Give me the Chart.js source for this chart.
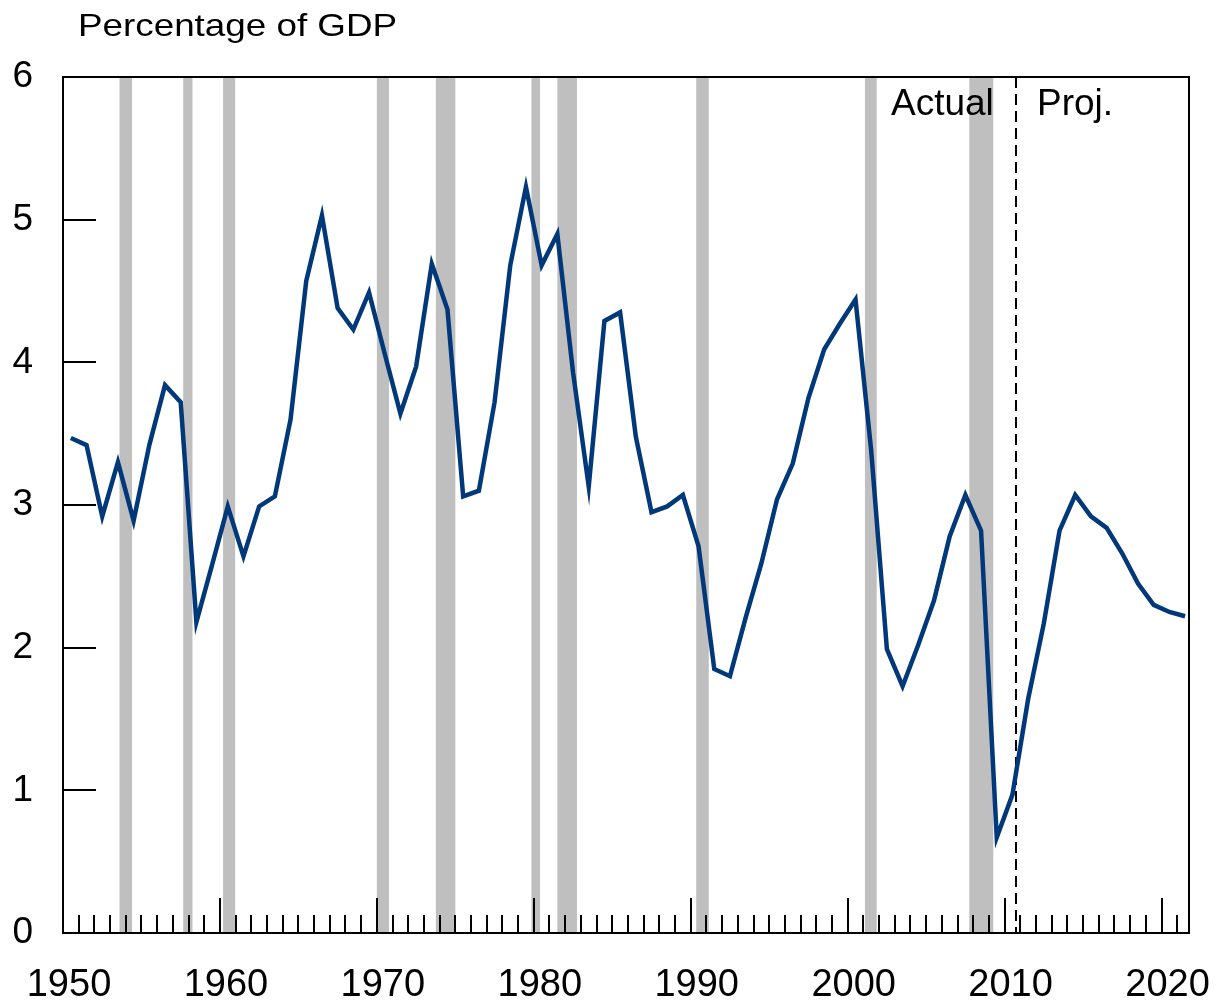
<!DOCTYPE html>
<html><head><meta charset="utf-8">
<script src="https://cdn.jsdelivr.net/npm/chart.js@4/dist/chart.umd.min.js"></script>
<style>html,body{margin:0;padding:0;background:#fff;}#wrap{width:1217px;height:1005px;position:relative;}</style>
</head><body><div id="wrap"><canvas id="c"></canvas></div>
<script>
const years = [1950,1951,1952,1953,1954,1955,1956,1957,1958,1959,
  1960,1961,1962,1963,1964,1965,1966,1967,1968,1969,
  1970,1971,1972,1973,1974,1975,1976,1977,1978,1979,
  1980,1981,1982,1983,1984,1985,1986,1987,1988,1989,
  1990,1991,1992,1993,1994,1995,1996,1997,1998,1999,
  2000,2001,2002,2003,2004,2005,2006,2007,2008,2009,
  2010,2011,2012,2013,2014,2015,2016,2017,2018,2019,2020,2021];
const values = [3.47,3.42,2.92,3.30,2.89,3.42,3.84,3.72,2.18,2.58,
  2.99,2.64,2.99,3.06,3.60,4.57,5.03,4.38,4.23,4.49,
  4.06,3.64,3.97,4.69,4.37,3.06,3.10,3.72,4.68,5.23,
  4.68,4.90,3.93,3.13,4.29,4.35,3.48,2.95,2.99,3.07,
  2.71,1.85,1.80,2.21,2.59,3.04,3.29,3.75,4.09,4.27,
  4.44,3.38,1.99,1.73,2.02,2.33,2.78,3.07,2.82,0.67,
  0.97,1.64,2.17,2.82,3.07,2.92,2.84,2.66,2.45,2.30,2.25,2.22];
const decadeTicks = [1950,1960,1970,1980,1990,2000,2010,2020];
const yTicks = [0,1,2,3,4,5,6];
const recessionStarts = [1953.6,1957.66,1960.2,1970.0,1973.76,1979.85,1981.5,1990.35,2001.1,2007.75];
const recessionEnds   = [1954.4,1958.25,1960.97,1970.77,1975.0,1980.4,1982.75,1991.15,2001.85,2009.28];
const projectionStart = 2010.75;
const xMin = 1950, xMax = 2021.75;
const unitLabel = 'Percentage of GDP';
const actualLabel = 'Actual';
const projLabel = 'Proj.';
const FONT = '"Liberation Sans", Arial, Helvetica, sans-serif';

const decor = {
  id: 'decor',
  beforeDatasetsDraw(chart) {
    const {ctx, chartArea: a, scales: {x, y}} = chart;
    ctx.save();
    ctx.fillStyle = '#BFBFBF';
    recessionStarts.forEach((s, i) => {
      const x0 = x.getPixelForValue(s), x1 = x.getPixelForValue(recessionEnds[i]);
      ctx.fillRect(x0, a.top, x1 - x0, a.bottom - a.top);
    });
    ctx.strokeStyle = '#000';
    ctx.lineWidth = 2;
    ctx.setLineDash([11, 6]);
    const px = Math.round(x.getPixelForValue(projectionStart));
    ctx.beginPath(); ctx.moveTo(px, a.top); ctx.lineTo(px, a.bottom); ctx.stroke();
    ctx.setLineDash([]);
    ctx.lineWidth = 2;
    ctx.beginPath();
    for (let yr = Math.ceil(xMin) + 1; yr <= Math.floor(xMax); yr++) {
      const len = (yr % 10 === 0) ? 35 : 18;
      const tx = Math.round(x.getPixelForValue(yr));
      ctx.moveTo(tx, a.bottom); ctx.lineTo(tx, a.bottom - len);
    }
    yTicks.forEach(v => {
      const ty = Math.round(y.getPixelForValue(v));
      ctx.moveTo(a.left, ty); ctx.lineTo(a.left + 33, ty);
    });
    ctx.stroke();
    ctx.restore();
  },
  afterDatasetsDraw(chart) {
    const {ctx, chartArea: a} = chart;
    ctx.save();
    ctx.strokeStyle = '#000';
    ctx.lineWidth = 2;
    ctx.strokeRect(a.left, a.top, a.right - a.left, a.bottom - a.top);
    ctx.fillStyle = '#000';
    ctx.textBaseline = 'alphabetic';
    ctx.font = '37px ' + FONT;
    ctx.textAlign = 'left';
    ctx.fillText(actualLabel, 891, 115);
    ctx.fillText(projLabel, 1037, 115);
    ctx.translate(78, 36);
    ctx.scale(1.15, 1);
    ctx.font = '32px ' + FONT;
    ctx.fillText(unitLabel, 0, 0);
    ctx.restore();
  }
};

new Chart(document.getElementById('c'), {
  type: 'line',
  data: {
    datasets: [{
      data: years.map((yr, i) => ({x: yr + 0.5, y: values[i]})),
      borderColor: '#00387A',
      borderWidth: 4.5,
      pointRadius: 0,
      tension: 0,
      fill: false
    }]
  },
  options: {
    responsive: true,
    maintainAspectRatio: false,
    animation: false,
    layout: {autoPadding: false, padding: {top: 77, right: 28, left: 0, bottom: 0}},
    plugins: {legend: {display: false}, tooltip: {enabled: false}},
    scales: {
      x: {
        type: 'linear', min: xMin, max: xMax,
        grid: {display: false, drawTicks: false},
        border: {display: false},
        afterBuildTicks(s) { s.ticks = decadeTicks.map(v => ({value: v})); },
        afterFit(s) { s.height = 72; s.paddingLeft = 0; s.paddingRight = 0; },
        ticks: {font: {family: FONT, size: 38}, color: '#000', padding: 30, labelOffset: 6,
                maxRotation: 0, autoSkip: false, callback: v => String(v)}
      },
      y: {
        min: 0, max: 6,
        grid: {display: false, drawTicks: false},
        border: {display: false},
        afterBuildTicks(s) { s.ticks = yTicks.map(v => ({value: v})); },
        afterFit(s) { s.width = 63; s.paddingTop = 0; s.paddingBottom = 0; },
        ticks: {font: {family: FONT, size: 37}, color: '#000', padding: 30, callback: v => String(v)}
      }
    }
  },
  plugins: [decor]
});
</script></body></html>
